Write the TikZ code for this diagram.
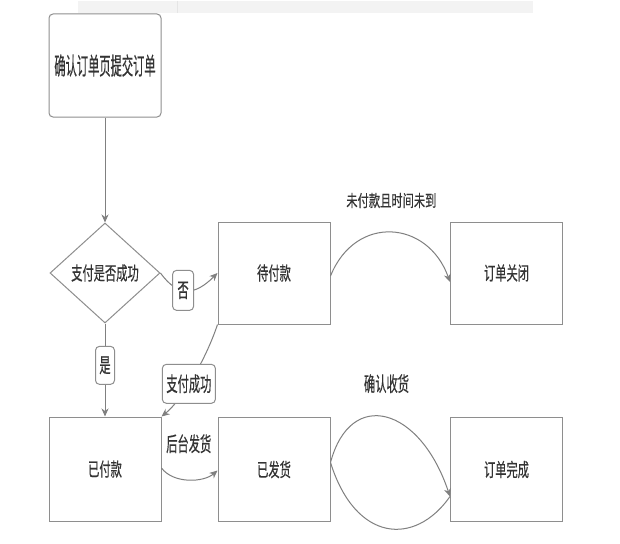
\documentclass[tikz,border=0pt]{standalone}
\usepackage{fontspec}
\usepackage{graphicx}
\newfontfamily\cjkfont[FakeBold=0.6]{Noto Sans CJK SC}
\usetikzlibrary{shapes.geometric,arrows.meta,calc}
\definecolor{bd}{HTML}{8E8E8E}
\definecolor{ln}{HTML}{808080}
\definecolor{txt}{HTML}{333333}
\definecolor{band}{HTML}{F3F3F3}
\newcommand{\cjkt}[2][1.25]{\scalebox{0.75}[#1]{#2}}
\begin{document}
\begin{tikzpicture}[x=1pt,y=-1pt,
  every node/.style={font=\cjkfont\fontsize{15}{18}\selectfont, text=txt},
  box/.style={draw=bd, line width=1pt, minimum width=112pt, minimum height=104pt, inner sep=0pt},
  dia/.style={draw=bd, line width=1pt, shape=diamond, aspect=1.1, minimum width=110pt, minimum height=100pt, inner sep=0pt},
  lab/.style={draw=bd, fill=white, rounded corners=4pt, line width=1pt, inner sep=0pt},
  arr/.style={draw=ln, line width=1pt, -{Stealth[length=8pt,width=7pt,inset=2.5pt]}},
  plain/.style={draw=ln, line width=1pt},
]
\useasboundingbox (0,0) rectangle (620,543);
\fill[white] (0,0) rectangle (620,543);
% faint band at top
\fill[band] (78,1) rectangle (533,13);
\draw[draw=black!10, line width=0.6pt] (177,1) -- (177,13);

% nodes
\node[box, rounded corners=4pt, minimum height=103pt] (start) at (105,65.5) {\cjkt[1.6]{确认订单页提交订单}};
\node[dia] (d) at (105,273) {\cjkt{支付是否成功}};
\node[box, minimum height=102pt] (w) at (274,273) {\cjkt{待付款}};
\node[box, minimum height=102pt] (c) at (506.5,273) {\cjkt{订单关闭}};
\node[box] (p) at (105,469) {\cjkt{已付款}};
\node[box] (s) at (274,469.5) {\cjkt{已发货}};
\node[box] (f) at (506.5,469.5) {\cjkt{订单完成}};

% connectors
\draw[arr] (start.south) -- (d.north);

\draw[arr] (d.east) .. controls +(18,25) and +(-22,22) .. (w.west)
  node[lab, pos=0.42, minimum width=21pt, minimum height=40pt] (no) {\cjkt[1.35]{否}};

\draw[arr] (d.south) -- (p.north)
  node[lab, pos=0.45, minimum width=19pt, minimum height=38pt] (yes) {\cjkt[1.35]{是}};

\draw[arr] (w.south west) .. controls +(-12,36) and +(20,-16) .. (p.north east)
  node[lab, pos=0.56, minimum width=53pt, minimum height=39pt] (ok) {\cjkt[1.35]{支付成功}};

\draw[arr] ([yshift=1pt]p.east) .. controls +(12,16) and +(-14,12) .. ([yshift=-1pt]s.west)
  node[pos=0.5, yshift=36pt] (ship) {\cjkt[1.35]{后台发货}};

\draw[arr] ([yshift=-3pt]w.east) .. controls +(25,-62) and +(-22,-62) .. ([yshift=-9pt]c.west)
  node[pos=0.5, yshift=32pt] (tout) {\cjkt[1.1]{未付款且时间未到}};

\draw[plain] ([yshift=7pt]s.east) .. controls +(25,80) and +(-35,50) .. ([yshift=-27pt]f.west);
\draw[arr] ([yshift=7pt]s.east) .. controls +(20,-75) and +(-30,-90) .. ([yshift=-27pt]f.west)
  node[pos=0.5, yshift=34pt] (recv) {\cjkt[1.35]{确认收货}};
\end{tikzpicture}
\end{document}
